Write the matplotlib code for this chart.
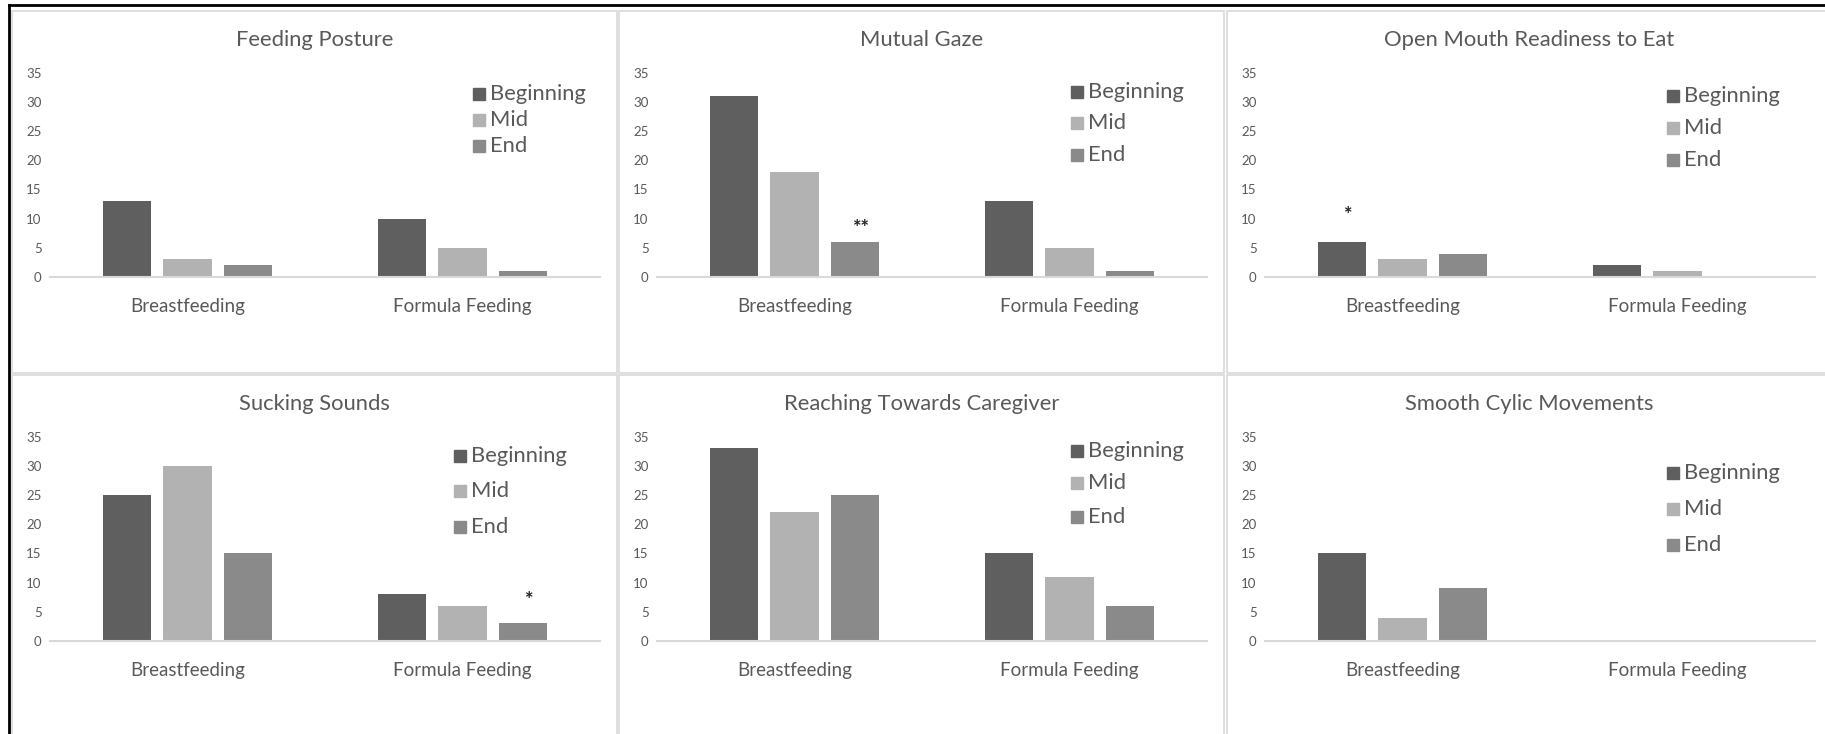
import matplotlib.pyplot as plt
from matplotlib.patches import Rectangle
import numpy as np

plt.rcParams['font.family'] = ['Lato', 'DejaVu Sans']

titles = ["Feeding Posture", "Mutual Gaze", "Open Mouth Readiness to Eat",
          "Sucking Sounds", "Reaching Towards Caregiver", "Smooth Cylic Movements"]
groups = ["Breastfeeding", "Formula Feeding"]
series = ["Beginning", "Mid", "End"]

# counts per panel: [Breastfeeding, Formula Feeding]
beginning = [[13, 10], [31, 13], [6, 2], [25, 8], [33, 15], [15, 0]]
mid = [[3, 5], [18, 5], [3, 1], [30, 6], [22, 11], [4, 0]]
end = [[2, 1], [6, 1], [4, 0], [15, 3], [25, 6], [9, 0]]

# significance marks: (panel, group, series, text, height)
stars = [(1, 0, 2, "**", 8.2), (2, 0, 0, "*", 10.5), (3, 1, 2, "*", 6.8)]

colors = ["#5f5f5f", "#b2b2b2", "#8a8a8a"]
txt = "#595959"
grid = "#d9d9d9"

W, H = 1825, 734
fig = plt.figure(figsize=(W / 100, H / 100), dpi=100)

col_x = [12, 619, 1227]
row_y = [11, 375]
pw, ph = 605, 362

# legend layout per panel: square x, row centres (pixels inside the panel)
leg_x = [461, 452, 440, 442, 452, 440]
leg_rows = [(83, 109, 135), (81, 112, 144), (85, 117, 149),
            (81, 116, 152), (76, 108, 142), (98, 134, 170)]


def fx(px):
    return px / W


def fy(py):
    return 1 - py / H


# black frame on top and left
fig.add_artist(plt.Line2D([fx(9), 1], [fy(5), fy(5)], color="black", lw=2))
fig.add_artist(plt.Line2D([fx(9), fx(9)], [fy(5), 0], color="black", lw=2))

data = [beginning, mid, end]
x = np.arange(len(groups))
bw, step = 0.175, 0.22

for p in range(6):
    r, c = divmod(p, 3)
    x0, y0 = col_x[c], row_y[r]
    right = x0 + pw if c < 2 else W + 10
    bottom = y0 + ph if r < 1 else H + 10
    fig.add_artist(Rectangle((fx(x0), fy(bottom)), fx(right - x0), (bottom - y0) / H,
                             transform=fig.transFigure, fill=False, ec=grid, lw=1.2))

    ax = fig.add_axes([fx(x0 + 38), fy(y0 + 266), fx(550), 204.5 / H])
    for s in range(3):
        ax.bar(x + (s - 1) * step, data[s][p], bw, color=colors[s], zorder=2)
    ax.set_xlim(-0.5, 1.5)
    ax.set_ylim(0, 35)
    ax.set_yticks(np.arange(0, 36, 5))
    ax.set_xticks(x)
    ax.set_xticklabels(groups, fontsize=13.5, color=txt)
    ax.tick_params(axis="x", length=0, pad=15)
    ax.tick_params(axis="y", length=0, pad=6, labelsize=9.5, labelcolor=txt)
    for side in ["top", "right", "left"]:
        ax.spines[side].set_visible(False)
    ax.spines["bottom"].set_color(grid)
    ax.spines["bottom"].set_linewidth(1.5)
    ax.patch.set_alpha(0)

    fig.text(fx(x0 + pw / 2), fy(y0 + 29), titles[p], ha="center", va="center",
             fontsize=15.8, color=txt)

    for s in range(3):
        cy = y0 + leg_rows[p][s]
        lx = x0 + leg_x[p]
        fig.add_artist(Rectangle((fx(lx), fy(cy + 6)), fx(12), 12 / H,
                                 transform=fig.transFigure, color=colors[s]))
        fig.text(fx(lx + 17), fy(cy), series[s], ha="left", va="center",
                 fontsize=15.8, color=txt)

    for sp, g, s, label, h in stars:
        if sp == p:
            ax.text(x[g] + (s - 1) * step + 0.02, h, label, ha="center", va="center",
                    fontsize=14.5, fontweight="bold", color="#222222")

fig.savefig("out.png", dpi=100)
